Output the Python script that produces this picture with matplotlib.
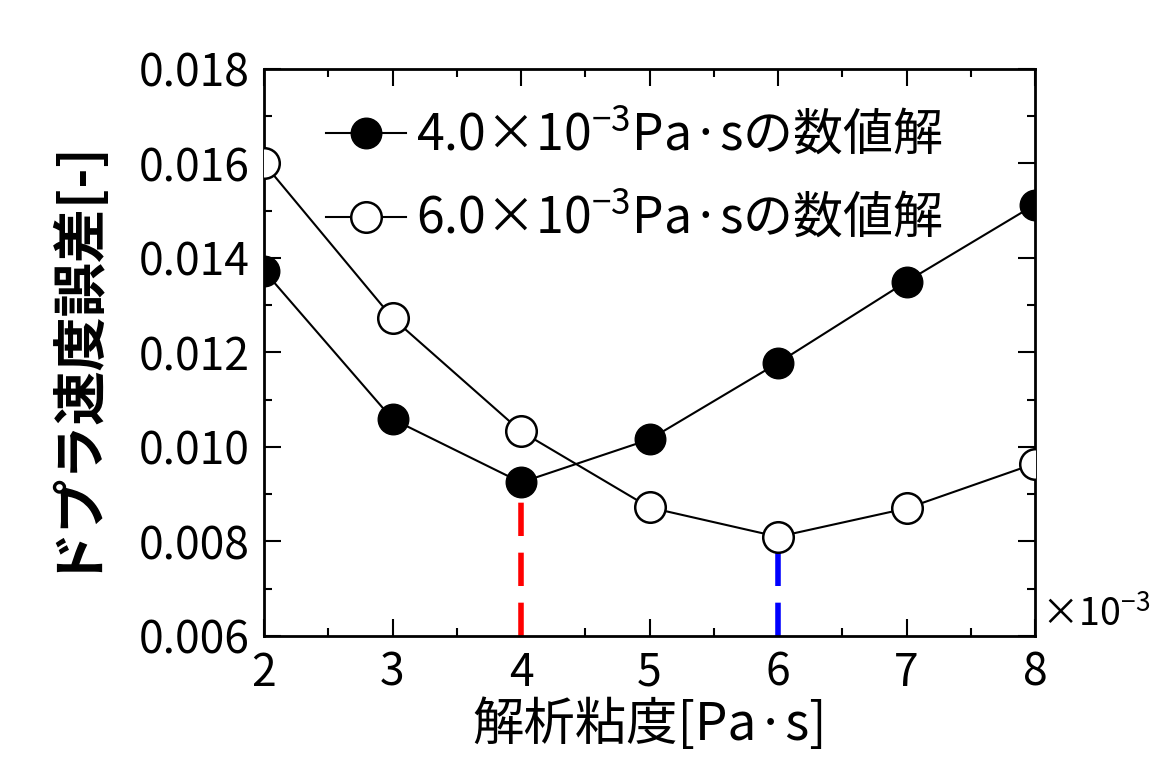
import matplotlib
matplotlib.use('Agg')
import matplotlib.pyplot as plt
from matplotlib.ticker import MultipleLocator

plt.rcParams['font.family'] = ['Noto Sans CJK JP', 'DejaVu Sans']
plt.rcParams['mathtext.fontset'] = 'custom'
plt.rcParams['mathtext.rm'] = 'Noto Sans CJK JP'

# 解析粘度 [x10^-3 Pa·s]
viscosity = [2, 3, 4, 5, 6, 7, 8]
# ドプラ速度誤差
err_4e3 = [0.01373, 0.01059, 0.00925, 0.01016, 0.01178, 0.0135, 0.01513]
err_6e3 = [0.0160, 0.01273, 0.01033, 0.00872, 0.0081, 0.0087, 0.00965]
labels = ['4.0×10$^{-3}$Pa·sの数値解', '6.0×10$^{-3}$Pa·sの数値解']

fig = plt.figure(figsize=(11.58, 7.58), dpi=100)
ax = fig.add_axes([264/1158, 1 - 636/758, (1035-264)/1158, (636-69)/758])

ax.plot(viscosity, err_4e3, '-o', color='black', lw=1.5, ms=22,
        mfc='black', mec='black', label=labels[0], zorder=3)
ax.plot(viscosity, err_6e3, '-o', color='black', lw=1.5, ms=22,
        mfc='white', mec='black', mew=1.8, label=labels[1], zorder=3)

# 最小値の位置を破線で示す
i4 = viscosity.index(4)
i6 = viscosity.index(6)
ax.plot([4, 4], [0.006, err_4e3[i4]], color='red', lw=4, dashes=(6, 3), zorder=2)
ax.plot([6, 6], [0.006, err_6e3[i6]], color='blue', lw=4, dashes=(6, 3), zorder=2)

ax.set_xlim(2, 8)
ax.set_ylim(0.006, 0.018)
ax.xaxis.set_major_locator(MultipleLocator(1))
ax.xaxis.set_minor_locator(MultipleLocator(0.5))
ax.yaxis.set_major_locator(MultipleLocator(0.002))
ax.yaxis.set_minor_locator(MultipleLocator(0.001))
ax.yaxis.set_major_formatter(plt.FuncFormatter(lambda v, p: f'{v:.3f}'))
ax.tick_params(which='both', direction='in', top=True, right=True, width=1.5)
ax.tick_params(which='major', length=12, labelsize=32, pad=10)
ax.tick_params(which='minor', length=6)
for s in ax.spines.values():
    s.set_linewidth(2)

ax.set_ylabel('ドプラ速度誤差[-]', fontsize=39, fontweight='bold', labelpad=30)
ax.set_xlabel('解析粘度[Pa·s]', fontsize=37, labelpad=2)

ax.text(1.008, 0.035, '×10$^{-3}$', transform=ax.transAxes, fontsize=27,
        ha='left', va='center', clip_on=False)

ax.legend(loc='upper left', bbox_to_anchor=(0.035, 0.99), frameon=False,
          fontsize=36, handlelength=1.6, handletextpad=0.2, labelspacing=0.6,
          borderaxespad=0.3)

fig.savefig('out.png', dpi=100)
